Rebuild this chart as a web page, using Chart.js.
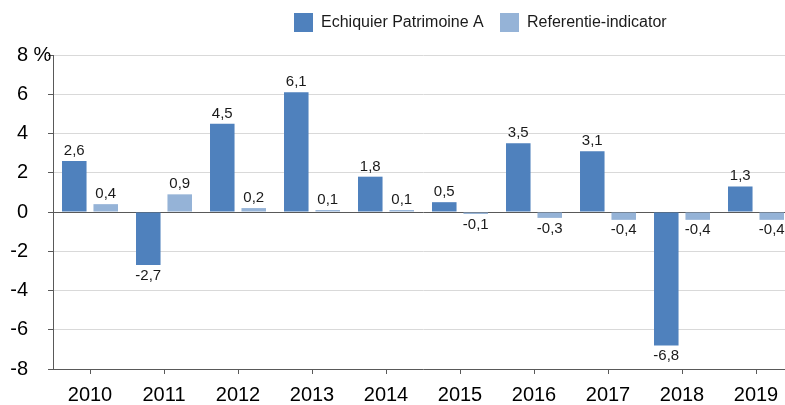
<!DOCTYPE html>
<html>
<head>
<meta charset="utf-8">
<script src="https://cdn.jsdelivr.net/npm/chart.js@4/dist/chart.umd.min.js"></script>
<style>
  html, body { margin: 0; padding: 0; background: #fff; overflow: hidden; }
  /* plot area runs a little past the right edge of the window, as in the reference */
  #wrap { width: 793px; height: 405px; position: relative; }
</style>
</head>
<body>
<div id="wrap"><canvas id="chart"></canvas></div>
<script>
// data
const years = ['2010', '2011', '2012', '2013', '2014', '2015', '2016', '2017', '2018', '2019'];
const fundValues = [2.6, -2.7, 4.5, 6.1, 1.8, 0.5, 3.5, 3.1, -6.8, 1.3];
const indexValues = [0.4, 0.9, 0.2, 0.1, 0.1, -0.1, -0.3, -0.4, -0.4, -0.4];
const seriesNames = ['Echiquier Patrimoine A', 'Referentie-indicator'];
const seriesColors = ['#4f81bd', '#95b3d7'];

const FONT = 'Arial, "Liberation Sans", sans-serif';

// value labels above / below each bar, with a decimal comma
const barLabels = {
    id: 'barLabels',
    afterDatasetsDraw(chart) {
        const ctx = chart.ctx;
        ctx.save();
        ctx.font = '15px ' + FONT;
        ctx.fillStyle = '#1a1a1a';
        ctx.textAlign = 'center';
        chart.data.datasets.forEach((ds, i) => {
            chart.getDatasetMeta(i).data.forEach((bar, j) => {
                const v = ds.data[j];
                const txt = v.toFixed(1).replace('.', ',');
                if (v >= 0) {
                    ctx.textBaseline = 'alphabetic';
                    ctx.fillText(txt, bar.x, bar.y - 6);
                } else {
                    ctx.textBaseline = 'top';
                    ctx.fillText(txt, bar.x, bar.y + 3);
                }
            });
        });
        ctx.restore();
    }
};

// legend drawn at the top right, and the "%" next to the top tick
const extras = {
    id: 'extras',
    afterDraw(chart) {
        const ctx = chart.ctx;
        ctx.save();
        ctx.font = '16px ' + FONT;
        ctx.textBaseline = 'middle';
        ctx.textAlign = 'left';
        const legendX = [294, 500];
        seriesNames.forEach((name, i) => {
            ctx.fillStyle = seriesColors[i];
            ctx.fillRect(legendX[i], 13, 19, 19);
            ctx.fillStyle = '#1a1a1a';
            ctx.fillText(name, legendX[i] + 27, 23);
        });

        const y = chart.scales.y;
        ctx.font = '20px ' + FONT;
        ctx.fillStyle = '#000';
        const labelRight = y.right - 5 - 20;
        ctx.fillText(' %', labelRight, y.getPixelForValue(8));
        ctx.restore();
    }
};

new Chart(document.getElementById('chart'), {
    type: 'bar',
    data: {
        labels: years,
        datasets: [
            {
                label: seriesNames[0],
                data: fundValues,
                backgroundColor: seriesColors[0],
                categoryPercentage: 0.85,
                barPercentage: 0.78,
            },
            {
                label: seriesNames[1],
                data: indexValues,
                backgroundColor: seriesColors[1],
                categoryPercentage: 0.85,
                barPercentage: 0.78,
            }
        ]
    },
    options: {
        responsive: true,
        maintainAspectRatio: false,
        animation: false,
        layout: {
            padding: { top: 55, left: 0, right: 0, bottom: 0 }
        },
        plugins: {
            legend: { display: false },
            tooltip: { enabled: false }
        },
        scales: {
            x: {
                grid: {
                    offset: false,
                    drawOnChartArea: false,
                    drawTicks: true,
                    tickLength: 5,
                    tickColor: '#595959'
                },
                border: { display: true, color: '#595959', width: 1 },
                ticks: {
                    color: '#000',
                    padding: 9,
                    maxRotation: 0,
                    font: { family: FONT, size: 20 }
                },
                afterFit(scale) {
                    scale.height = 36;
                }
            },
            y: {
                min: -8,
                max: 8,
                ticks: {
                    stepSize: 2,
                    color: '#000',
                    padding: 20,
                    font: { family: FONT, size: 20 }
                },
                grid: {
                    drawTicks: true,
                    tickLength: 5,
                    tickColor: '#595959',
                    color: function(context) {
                        if (context.tick && context.tick.value === 0) {
                            return '#595959';
                        }
                        return '#d9d9d9';
                    }
                },
                border: { display: true, color: '#595959', width: 1 },
                afterFit(scale) {
                    scale.width = 53;
                }
            }
        }
    },
    plugins: [barLabels, extras]
});
</script>
</body>
</html>
